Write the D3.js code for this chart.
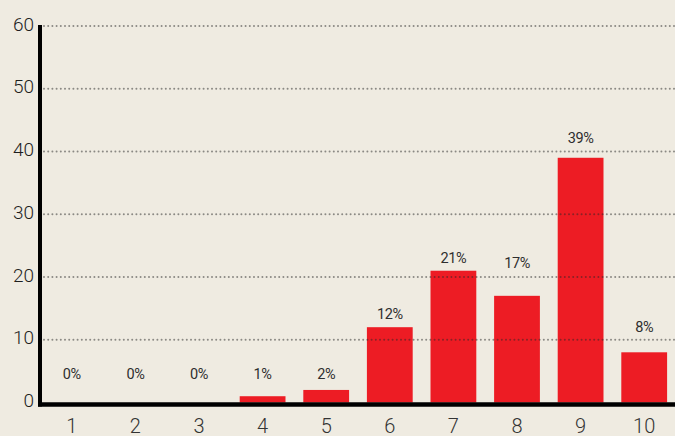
<!DOCTYPE html>
<html>
<head>
<meta charset="utf-8">
<script src="https://cdn.jsdelivr.net/npm/d3@7"></script>
<style>
    html, body { margin: 0; padding: 0; background: #efebe1; }
    svg { display: block; }
</style>
</head>
<body>
<div id="chart"></div>
<script>
/*
    Data
*/
const categories = ["1", "2", "3", "4", "5", "6", "7", "8", "9", "10"];
const values = [0, 0, 0, 1, 2, 12, 21, 17, 39, 8];
const percentLabels = ["0%", "0%", "0%", "1%", "2%", "12%", "21%", "17%", "39%", "8%"];
const labelLevels = [4.5, 4.5, 4.5, 4.5, 4.5, 14.1, 23.1, 22.2, 42.2, 12.0];
const yTicks = [0, 10, 20, 30, 40, 50, 60];

function drawChart() {
    // Meta
    const width = 675;
    const height = 436;
    const left = 40;
    const top = 26;
    const bottom = 402.5;

    const svg = d3.select("#chart")
        .append("svg")
        .attr("width", width)
        .attr("height", height);

    svg.append("rect")
        .attr("width", width)
        .attr("height", height)
        .attr("fill", "#efebe1");

    const x = d3.scaleBand()
        .domain(categories)
        .range([left, 676])
        .paddingInner(0.28)
        .paddingOuter(0.14);
    const y = d3.scaleLinear()
        .domain([0, 60])
        .range([bottom, top]);

    // Bars
    svg.selectAll(".bar")
        .data(values)
        .enter()
        .append("rect")
        .attr("class", "bar")
        .attr("x", (d, i) => x(categories[i]))
        .attr("y", d => y(d))
        .attr("width", x.bandwidth())
        .attr("height", d => y(0) - y(d))
        .attr("fill", "#ed1c24");

    // Dotted grid on top of the bars
    svg.selectAll(".grid")
        .data(yTicks.filter(t => t > 0))
        .enter()
        .append("line")
        .attr("class", "grid")
        .attr("x1", left + 4)
        .attr("x2", width)
        .attr("y1", d => y(d))
        .attr("y2", d => y(d))
        .attr("stroke", "rgba(40,40,40,0.5)")
        .attr("stroke-width", 2)
        .attr("stroke-linecap", "round")
        .attr("stroke-dasharray", "0,4.2");

    // Axes lines
    svg.append("line")
        .attr("x1", left)
        .attr("x2", left)
        .attr("y1", top - 1)
        .attr("y2", bottom + 4)
        .attr("stroke", "#000")
        .attr("stroke-width", 4);
    svg.append("line")
        .attr("x1", left - 2)
        .attr("x2", width)
        .attr("y1", bottom + 2)
        .attr("y2", bottom + 2)
        .attr("stroke", "#000")
        .attr("stroke-width", 4.5);

    // Y tick labels
    const yAxis = svg.append("g")
        .attr("transform", `translate(${left - 6}, 0)`)
        .call(d3.axisLeft(y).tickValues(yTicks).tickSize(0).tickPadding(0));
    yAxis.select(".domain").remove();
    yAxis.selectAll("text")
        .attr("dy", "0.22em")
        .style("font-family", "Roboto, 'Liberation Sans', sans-serif")
        .style("font-weight", "300")
        .style("font-size", "19px")
        .style("fill", "#1e1e1e");

    // X tick labels
    const xAxis = svg.append("g")
        .attr("transform", `translate(0, ${bottom})`)
        .call(d3.axisBottom(x).tickSize(0).tickPadding(0));
    xAxis.select(".domain").remove();
    xAxis.selectAll("text")
        .attr("y", 30)
        .attr("dy", 0)
        .style("font-family", "Roboto, 'DejaVu Sans', sans-serif")
        .style("font-weight", "300")
        .style("font-size", "20px")
        .style("fill", "#333");

    // Percent labels
    svg.selectAll(".pct")
        .data(percentLabels)
        .enter()
        .append("text")
        .attr("class", "pct")
        .attr("x", (d, i) => x(categories[i]) + x.bandwidth() / 2)
        .attr("y", (d, i) => y(labelLevels[i]))
        .attr("dy", "0.36em")
        .attr("text-anchor", "middle")
        .style("font-family", "Roboto, sans-serif")
        .style("font-size", "14.5px")
        .style("letter-spacing", "-0.4px")
        .style("fill", "#2e2e2e")
        .text(d => d);
}

drawChart();
</script>
</body>
</html>
